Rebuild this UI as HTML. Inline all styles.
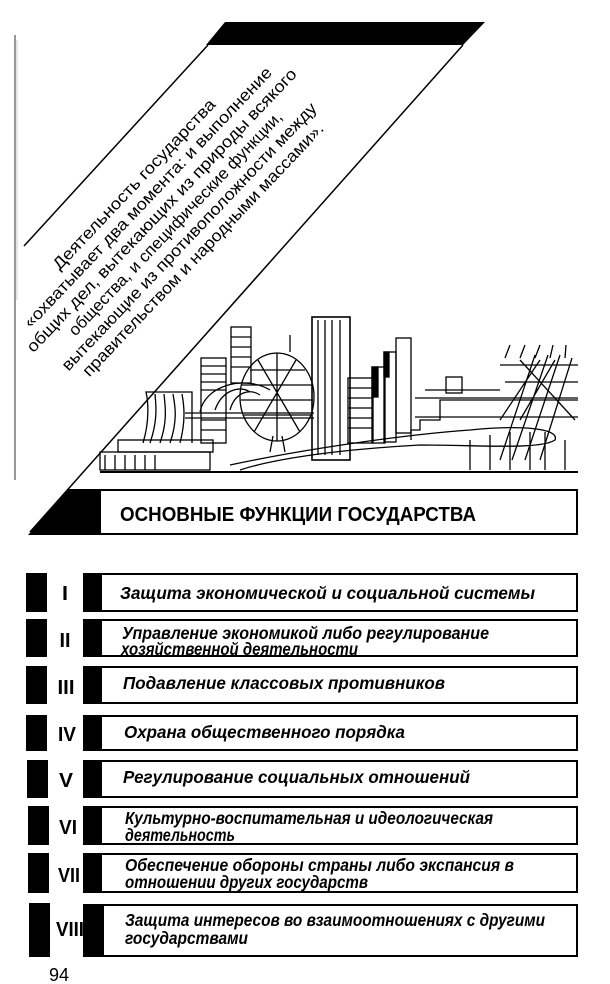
<!DOCTYPE html>
<html><head><meta charset="utf-8"><style>
html,body{margin:0;padding:0;background:#fff;}
svg{display:block}
</style></head><body>
<svg width="610" height="984" viewBox="0 0 610 984" xmlns="http://www.w3.org/2000/svg" font-family="'Liberation Sans', sans-serif">
<rect width="610" height="984" fill="#fff"/>
<line x1="15" y1="35" x2="15" y2="480" stroke="#999" stroke-width="2"/>
<line x1="17" y1="40" x2="17" y2="300" stroke="#ccc" stroke-width="1"/>
<polygon points="225,22 485,22 463,45 206,45" fill="#000"/>
<line x1="208" y1="45" x2="24" y2="246" stroke="#000" stroke-width="1.5"/>
<line x1="463" y1="45" x2="30" y2="532" stroke="#000" stroke-width="1.5"/>
<g transform="translate(138,188) rotate(-46.5)" font-size="16.5" text-anchor="middle" fill="#000">
<text x="0" y="0" textLength="228" lengthAdjust="spacingAndGlyphs">Деятельность государства</text>
<text x="0" y="19" textLength="352" lengthAdjust="spacingAndGlyphs">«охватывает два момента: и выполнение</text>
<text x="0" y="38" textLength="384" lengthAdjust="spacingAndGlyphs">общих дел, вытекающих из природы всякого</text>
<text x="0" y="57" textLength="302" lengthAdjust="spacingAndGlyphs">общества, и специфические функции,</text>
<text x="0" y="76" textLength="362" lengthAdjust="spacingAndGlyphs">вытекающие из противоположности между</text>
<text x="0" y="95" textLength="342" lengthAdjust="spacingAndGlyphs">правительством и народными массами».</text>
</g>
<g fill="none" stroke="#000" stroke-width="1.3">
<line x1="100" y1="472" x2="578" y2="472" stroke-width="2"/>
<rect x="100" y="452" width="110" height="18"/>
<rect x="118" y="440" width="95" height="12"/>
<path d="M143,443 C150,420 148,400 146,392 L192,392 L192,443"/>
<path d="M150,443 C158,420 156,405 155,394 M160,443 C168,420 165,405 164,394 M170,443 C178,420 175,405 173,394 M180,443 C186,420 184,405 182,394"/>
<rect x="201" y="358" width="25" height="85"/>
<path d="M201,366 H226 M201,374 H226 M201,382 H226 M201,390 H226 M201,420 H226 M201,430 H226"/>
<rect x="231" y="327" width="20" height="56"/>
<path d="M231,337 H251 M231,347 H251 M231,357 H251 M231,367 H251"/>
<path d="M200,412 C205,385 245,375 270,390"/>
<path d="M215,410 C222,390 240,385 250,392 M230,410 C235,392 250,388 260,395"/>
<line x1="185" y1="413" x2="314" y2="413"/>
<line x1="185" y1="418" x2="314" y2="418"/>
<ellipse cx="277" cy="397" rx="37" ry="44"/>
<path d="M242,385 H312 M241,400 H313 M244,415 H310 M250,370 H305 M258,360 L300,432 M296,360 L254,432 M277,353 V441"/>
<line x1="273" y1="436" x2="270" y2="452"/><line x1="282" y1="436" x2="285" y2="452"/>
<line x1="290" y1="335" x2="290" y2="352"/>
<rect x="312" y="317" width="38" height="143" stroke-width="1.6"/>
<path d="M318,320 V455 M325,320 V455 M332,320 V455 M340,320 V455"/>
<rect x="348" y="378" width="25" height="65"/>
<path d="M348,388 H373 M348,398 H373 M348,408 H373 M348,418 H373 M348,428 H373"/>
<rect x="372" y="367" width="13" height="76"/>
<rect x="384" y="352" width="12" height="90"/>
<rect x="396" y="338" width="15" height="95"/>
<rect x="372" y="367" width="6" height="30" fill="#000"/>
<rect x="384" y="352" width="5" height="25" fill="#000"/>
<path d="M411,440 V430 H420 V420 H440 V400 H578 M415,398 H578 M415,417 H578 M425,390 H500"/>
<rect x="446" y="377" width="16" height="16"/>
<path d="M230,465 C300,450 400,435 470,430 C520,425 560,428 555,440 C540,450 480,445 420,445 C330,450 270,460 240,470"/>
<path d="M500,460 L535,355 M512,460 L548,355 M525,460 L560,355 M540,460 L572,358 M500,365 H578 M505,382 H578 M520,360 L575,420 M540,360 L500,420 M555,360 L520,420"/>
<path d="M505,358 L510,345 M520,358 L525,345 M535,358 L540,345 M550,358 L553,345 M565,358 L566,345"/>
<path d="M470,440 V470 M490,435 V470 M510,432 V470 M530,432 V470 M545,432 V470 M565,440 V470"/>
<path d="M105,455 V470 M115,455 V470 M125,455 V470 M135,455 V470 M145,455 V470 M155,455 V470"/>
</g>
<polygon points="69,489 100,489 100,535 28,535" fill="#000"/>
<rect x="100" y="490" width="477" height="44" fill="#fff" stroke="#000" stroke-width="2"/>
<text x="120" y="521" font-size="20" font-weight="bold" textLength="356" lengthAdjust="spacingAndGlyphs">ОСНОВНЫЕ ФУНКЦИИ ГОСУДАРСТВА</text>
<g>
<rect x="26" y="573" width="21" height="39" fill="#000"/><rect x="83" y="573" width="18" height="39" fill="#000"/><rect x="101" y="574" width="476" height="37" fill="none" stroke="#000" stroke-width="2"/>
<rect x="26" y="619" width="21" height="38" fill="#000"/><rect x="83" y="619" width="18" height="38" fill="#000"/><rect x="101" y="620" width="476" height="36" fill="none" stroke="#000" stroke-width="2"/>
<rect x="26" y="666" width="21" height="38" fill="#000"/><rect x="83" y="666" width="18" height="38" fill="#000"/><rect x="101" y="667" width="476" height="36" fill="none" stroke="#000" stroke-width="2"/>
<rect x="26" y="715" width="21" height="36" fill="#000"/><rect x="83" y="715" width="18" height="36" fill="#000"/><rect x="101" y="716" width="476" height="34" fill="none" stroke="#000" stroke-width="2"/>
<rect x="27" y="760" width="21" height="38" fill="#000"/><rect x="83" y="760" width="18" height="38" fill="#000"/><rect x="101" y="761" width="476" height="36" fill="none" stroke="#000" stroke-width="2"/>
<rect x="28" y="806" width="21" height="39" fill="#000"/><rect x="83" y="806" width="18" height="39" fill="#000"/><rect x="101" y="807" width="476" height="37" fill="none" stroke="#000" stroke-width="2"/>
<rect x="28" y="853" width="21" height="40" fill="#000"/><rect x="83" y="853" width="18" height="40" fill="#000"/><rect x="101" y="854" width="476" height="38" fill="none" stroke="#000" stroke-width="2"/>
<rect x="29" y="903" width="21" height="54" fill="#000"/><rect x="83" y="904" width="20" height="53" fill="#000"/><rect x="103" y="905" width="474" height="51" fill="none" stroke="#000" stroke-width="2"/>
</g>
<g font-weight="bold" font-size="20" text-anchor="middle" font-family="'Liberation Sans Narrow','Liberation Sans',sans-serif">
<text x="65" y="600" textLength="6" lengthAdjust="spacingAndGlyphs">I</text>
<text x="65" y="647" textLength="11" lengthAdjust="spacingAndGlyphs">II</text>
<text x="66" y="694" textLength="17" lengthAdjust="spacingAndGlyphs">III</text>
<text x="67" y="741" textLength="18" lengthAdjust="spacingAndGlyphs">IV</text>
<text x="66" y="787" textLength="14" lengthAdjust="spacingAndGlyphs">V</text>
<text x="68" y="834" textLength="18" lengthAdjust="spacingAndGlyphs">VI</text>
<text x="69" y="882" textLength="22" lengthAdjust="spacingAndGlyphs">VII</text>
<text x="70" y="936" textLength="28" lengthAdjust="spacingAndGlyphs">VIII</text>
</g>
<g font-size="17.5" font-weight="bold" font-style="italic">
<text x="120" y="599" textLength="415" lengthAdjust="spacingAndGlyphs">Защита экономической и социальной системы</text>
<text x="122" y="639" textLength="367" lengthAdjust="spacingAndGlyphs">Управление экономикой либо регулирование</text>
<text x="121" y="655" textLength="237" lengthAdjust="spacingAndGlyphs">хозяйственной деятельности</text>
<text x="123" y="689" textLength="322" lengthAdjust="spacingAndGlyphs">Подавление классовых противников</text>
<text x="124" y="738" textLength="281" lengthAdjust="spacingAndGlyphs">Охрана общественного порядка</text>
<text x="123" y="783" textLength="347" lengthAdjust="spacingAndGlyphs">Регулирование социальных отношений</text>
<text x="125" y="824" textLength="368" lengthAdjust="spacingAndGlyphs">Культурно-воспитательная и идеологическая</text>
<text x="125" y="841" textLength="110" lengthAdjust="spacingAndGlyphs">деятельность</text>
<text x="125" y="871" textLength="389" lengthAdjust="spacingAndGlyphs">Обеспечение обороны страны либо экспансия в</text>
<text x="125" y="888" textLength="243" lengthAdjust="spacingAndGlyphs">отношении других государств</text>
<text x="125" y="926" textLength="420" lengthAdjust="spacingAndGlyphs">Защита интересов во взаимоотношениях с другими</text>
<text x="125" y="944" textLength="123" lengthAdjust="spacingAndGlyphs">государствами</text>
</g>
<text x="49" y="981" font-size="18">94</text>
</svg>
</body></html>
